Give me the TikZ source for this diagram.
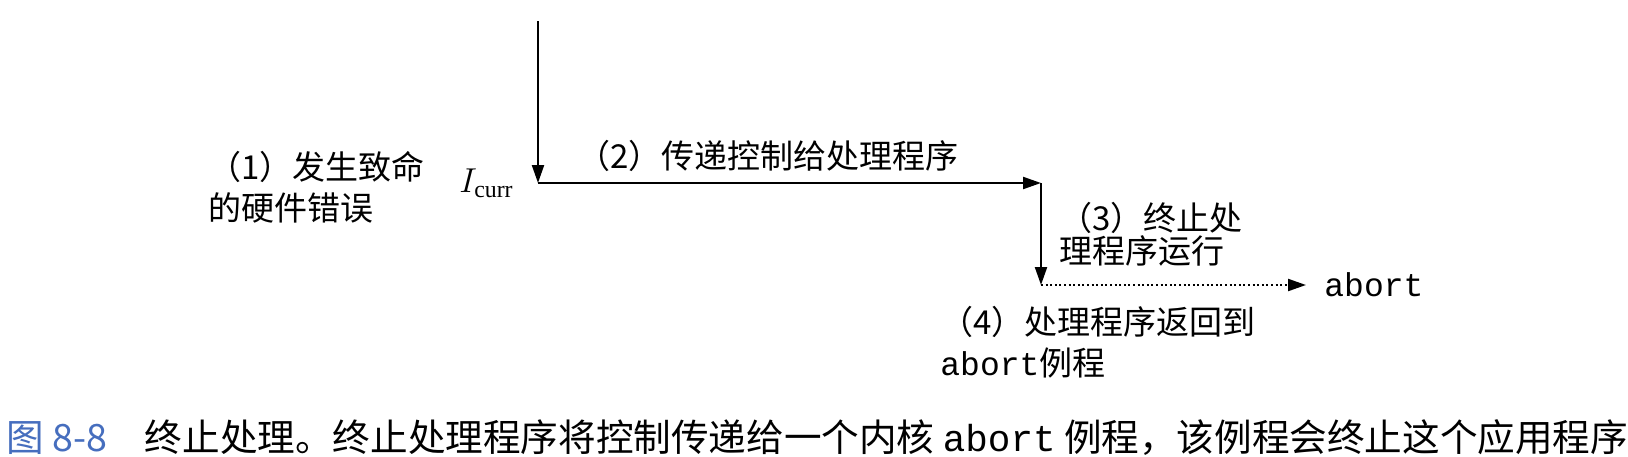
\documentclass[tikz,border=0pt]{standalone}
\usepackage{fontspec}
\setmainfont{Liberation Serif}
\setmonofont{Liberation Mono}
\newfontfamily\cjk{Noto Sans CJK SC}
\usetikzlibrary{arrows.meta, positioning}
\definecolor{cCaption}{RGB}{70,110,190}
\tikzset{
    note/.style={font=\cjk\fontsize{16.5}{20.5}\selectfont, align=left, inner sep=0pt},
    flow/.style={-{Triangle[length=9pt, width=6pt]}, line width=1.1pt},
    ret/.style={-{Triangle[length=9pt, width=6pt]}, line width=1.1pt, dash pattern=on 1pt off 1.3pt},
}

\begin{document}
\begin{tikzpicture}[x=0.5pt, y=-0.5pt]
    \useasboundingbox (0,0) rectangle (1628,456);
    % control path
    \coordinate (entry) at (538,21);
    \coordinate (fault) at (538,183);
    \coordinate (handler) at (1041,183);
    \coordinate (kill) at (1041,285);
    \node[anchor=west, inner xsep=9pt, inner ysep=0pt, font=\ttfamily\fontsize{16.5}{20}\selectfont] (abort) at (1306,285) {abort};
    % labels
    \node[left=12pt of fault, inner sep=0pt, font=\fontsize{17}{20}\selectfont] (icurr) {$I_{\mathrm{curr}}$};
    \node[note, anchor=west] (hw) at (208,187) {（1）发生致命\\的硬件错误};
    \node[note] (pass) at (768,156) {（2）传递控制给处理程序};
    \node[note, anchor=west, font=\cjk\fontsize{16.5}{16.5}\selectfont] (stop) at (1059,234) {（3）终止处\\理程序运行};
    \node[note, anchor=west] (back) at (940,342) {（4）处理程序返回到\\{\ttfamily abort}例程};
    \node[anchor=west, inner sep=0pt, font=\cjk\fontsize{18.8}{20}\selectfont] (cap) at (6,438)
        {\textcolor{cCaption}{图 8-8}\quad 终止处理。终止处理程序将控制传递给一个内核 {\ttfamily abort} 例程，该例程会终止这个应用程序};
    \draw[flow] (entry) -- (fault);
    \draw[flow] (fault) -- (handler);
    \draw[flow] (handler) -- (kill);
    \draw[ret] (kill) -- (kill -| abort.west);
\end{tikzpicture}
\end{document}
